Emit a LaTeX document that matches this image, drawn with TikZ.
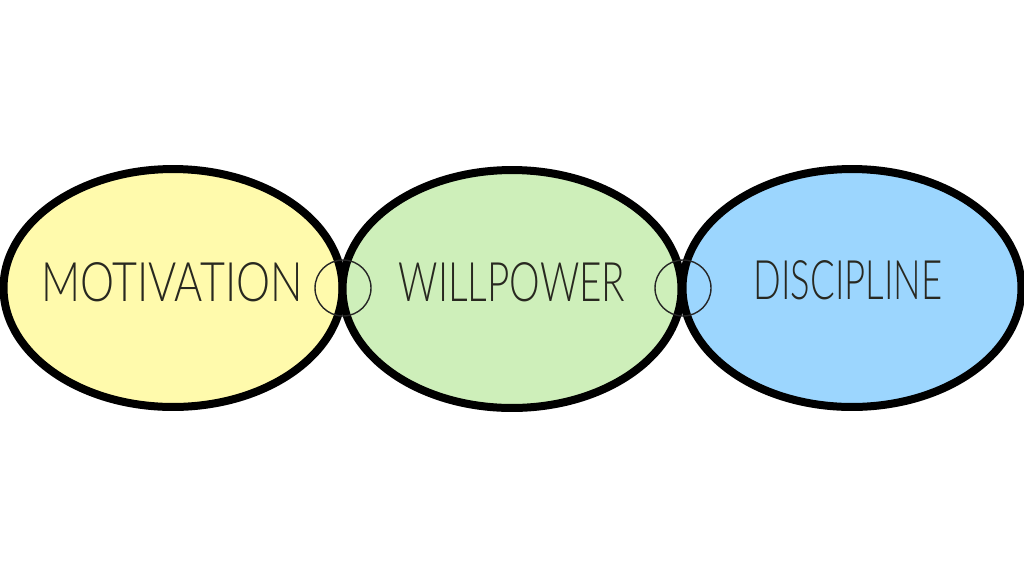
\documentclass[tikz,border=0pt]{standalone}
\usepackage{fontspec}
\usepackage{tikz}
\usetikzlibrary{shapes.geometric}
\newfontfamily\labelfont{Lato Light}
\definecolor{motivationfill}{RGB}{255,250,172}
\definecolor{willpowerfill}{RGB}{206,239,186}
\definecolor{disciplinefill}{RGB}{156,214,254}
\definecolor{labeltext}{RGB}{40,40,32}

\begin{document}
\begin{tikzpicture}[x=0.02cm, y=-0.02cm,
    bubble/.style={ellipse, draw=black, line width=0.16cm, minimum width=6.78cm, minimum height=4.76cm, inner sep=0pt},
    ring/.style={circle, draw=black!85, line width=0.8pt, minimum size=1.12cm, inner sep=0pt},
    word/.style={text=labeltext, font=\labelfont\fontsize{31}{31}\selectfont}]
    % Fix the canvas
    \useasboundingbox (0,0) rectangle (1024,576);
    % Draw the three ellipses
    \node[bubble, fill=motivationfill] (motivation) at (173,288) {};
    \node[bubble, fill=willpowerfill] (willpower) at (512,289) {};
    \node[bubble, fill=disciplinefill] (discipline) at (852,288) {};
    % Draw the small rings where they touch
    \node[ring] (ringa) at (343,288) {};
    \node[ring] (ringb) at (683,288) {};
    % Label the ellipses
    \node[word] (motivationtext) at (172,282) {\scalebox{0.79}[1]{MOTIVATION}};
    \node[word] (willpowertext) at (512,282) {\scalebox{0.71}[1]{WILLPOWER}};
    \node[word] (disciplinetext) at (848,280) {\scalebox{0.67}[1]{DISCIPLINE}};
\end{tikzpicture}
\end{document}
